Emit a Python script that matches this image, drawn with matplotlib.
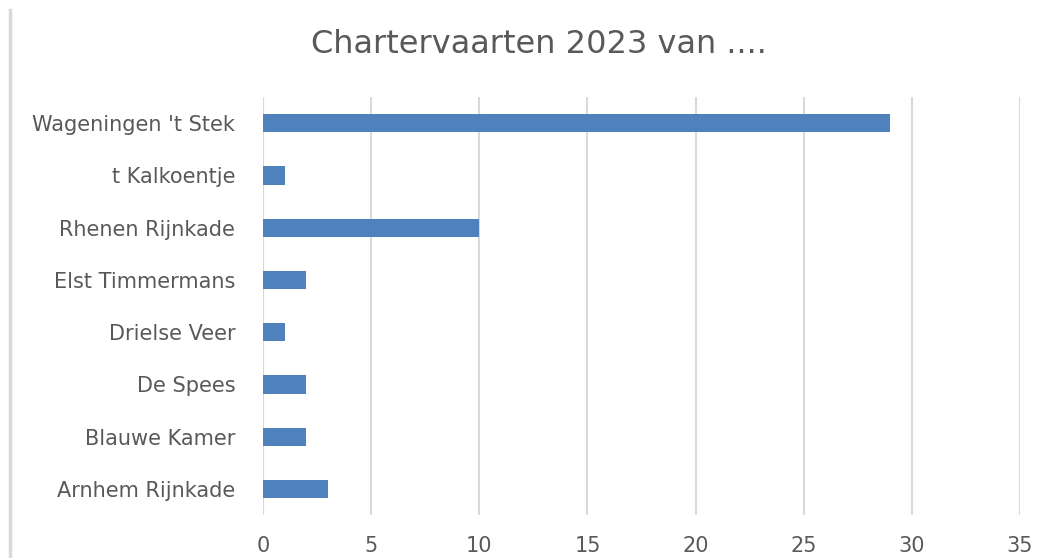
import matplotlib.pyplot as plt
from matplotlib.lines import Line2D

plt.rcParams['font.family'] = ['DejaVu Sans']

categories = ["Arnhem Rijnkade", "Blauwe Kamer", "De Spees", "Drielse Veer",
              "Elst Timmermans", "Rhenen Rijnkade", "t Kalkoentje", "Wageningen 't Stek"]
values = [3, 2, 2, 1, 2, 10, 1, 29]
xticks = [0, 5, 10, 15, 20, 25, 30, 35]

fig = plt.figure(figsize=(10.53, 5.58), dpi=100)
ax = fig.add_axes([0.2498, 0.077, 0.7189, 0.749])

ax.barh(range(len(categories)), values, height=0.35, color='#4F81BD', zorder=3)
ax.set_xlim(0, 35)
ax.set_ylim(-0.5, len(categories) - 0.5)
ax.set_xticks(xticks)
ax.set_yticks(range(len(categories)))
ax.set_yticklabels(categories)
ax.grid(axis='x', color='#D9D9D9', linewidth=1.5, zorder=0)
for s in ax.spines.values():
    s.set_visible(False)
ax.axvline(0, color='#D9D9D9', linewidth=1.5, zorder=1)
ax.tick_params(length=0, colors='#595959')
ax.tick_params(axis='x', labelsize=15, pad=15)
ax.tick_params(axis='y', labelsize=15, pad=20)

fig.text(0.512, 0.92, "Chartervaarten 2023 van ....", ha='center', va='center',
         fontsize=23, color='#595959')

fig.add_artist(Line2D([10 / 1053, 10 / 1053], [0, 1 - 10 / 558],
                      color='#D9D9D9', linewidth=2.5, transform=fig.transFigure))

fig.savefig('out.png', dpi=100)
